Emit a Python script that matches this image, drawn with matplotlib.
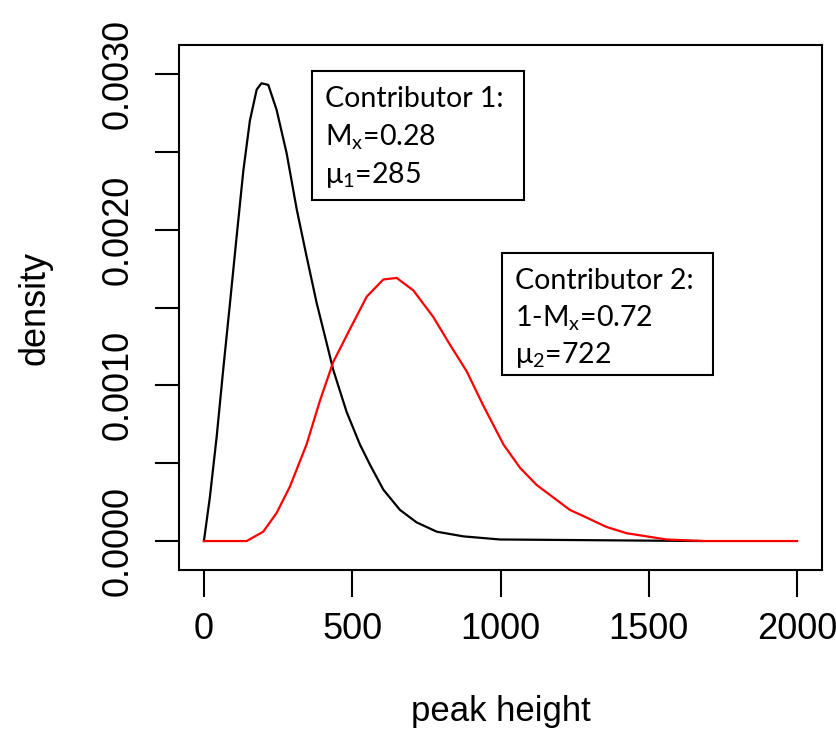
import matplotlib
matplotlib.use("Agg")
import matplotlib.pyplot as plt
from matplotlib.patches import Rectangle
from matplotlib import font_manager

# ---- data ----
black_x = [0, 20, 43, 65, 88, 110, 133, 155, 178, 194, 217, 245, 279, 313, 346,
           380, 414, 436, 481, 526, 560, 605, 661, 717, 785, 875, 998, 1680]
black_y = [0, 0.00028, 0.00067, 0.00110, 0.00153, 0.00195, 0.00238, 0.00270,
           0.00290, 0.00294, 0.00293, 0.00277, 0.00249, 0.00213, 0.00183, 0.00153,
           0.00127, 0.00110, 0.00083, 0.00062, 0.00049, 0.00033, 0.00020, 0.00012,
           0.00006, 0.00003, 0.00001, 0.0]

red_x = [0, 144, 200, 245, 290, 346, 391, 436, 492, 549, 605, 650, 706, 773, 830,
         886, 942, 1010, 1066, 1122, 1178, 1234, 1291, 1358, 1426, 1493, 1560, 1686, 2000]
red_y = [0, 0, 0.00006, 0.00018, 0.00035, 0.00062, 0.00090, 0.00115, 0.00136,
         0.00157, 0.00168, 0.00169, 0.00161, 0.00144, 0.00126, 0.00109, 0.00087,
         0.00062, 0.00047, 0.00036, 0.00028, 0.00020, 0.00015, 0.00009, 0.00005,
         0.00003, 0.00001, 0.0, 0.0]

x_ticks = [0, 500, 1000, 1500, 2000]
x_ticklabels = ["0", "500", "1000", "1500", "2000"]
y_ticks = [0, 0.0005, 0.0010, 0.0015, 0.0020, 0.0025, 0.0030]
y_ticklabels = ["0.0000", "", "0.0010", "", "0.0020", "", "0.0030"]

box1_lines = ["Contributor 1:", r"M$_{\mathregular{x}}$=0.28", r"μ$_{\mathregular{1}}$=285"]
box2_lines = ["Contributor 2:", r"1-M$_{\mathregular{x}}$=0.72", r"μ$_{\mathregular{2}}$=722"]

# ---- fonts ----
names = {f.name for f in font_manager.fontManager.ttflist}
narrow = "Liberation Sans Narrow" if "Liberation Sans Narrow" in names else "Liberation Sans"
plt.rcParams["mathtext.fontset"] = "custom"
plt.rcParams["mathtext.rm"] = "Lato"

W, H = 836, 734
fig = plt.figure(figsize=(W / 100, H / 100), dpi=100)
L, R, T, B = 179, 822, 45, 570
ax = fig.add_axes([L / W, 1 - B / H, (R - L) / W, (B - T) / H])

ax.plot(black_x, black_y, color="black", lw=1.6)
ax.plot(red_x, red_y, color="red", lw=1.6)

ax.set_xlim(-84, 2084)
ax.set_ylim(-0.000186, 0.003186)

ax.set_xticks(x_ticks)
ax.set_xticklabels(x_ticklabels, fontfamily="Liberation Sans", fontsize=26)
ax.set_yticks(y_ticks)
ax.set_yticklabels(y_ticklabels, fontfamily=narrow, fontsize=26,
                   rotation=90, va="center")
ax.tick_params(axis="x", length=19.5, width=1.5, pad=11, direction="out")
ax.tick_params(axis="y", length=17.5, width=1.5, pad=14, direction="out")
for s in ax.spines.values():
    s.set_linewidth(1.5)

ax.set_xlabel("peak height", fontfamily="Liberation Sans", fontsize=25, va="center")
ax.xaxis.set_label_coords(0.5, (B - 712) / (B - T))
ax.set_ylabel("density", fontfamily=narrow, fontsize=26, va="center")
ax.yaxis.set_label_coords((35 - L) / (R - L), 0.5)

def px2ax(px, py):
    return (px - L) / (R - L), (B - py) / (B - T)

def draw_box(x0, y0, x1, y1, tx, baselines, lines):
    ax0, ay0 = px2ax(x0, y1)
    ax1, ay1 = px2ax(x1, y0)
    ax.add_patch(Rectangle((ax0, ay0), ax1 - ax0, ay1 - ay0, transform=ax.transAxes,
                           fill=True, facecolor="white", edgecolor="black", lw=1.5,
                           zorder=3))
    for by, line in zip(baselines, lines):
        xx, yy = px2ax(tx, by)
        ax.text(xx, yy, line, transform=ax.transAxes, fontfamily="Lato",
                fontsize=20.5, va="baseline", ha="left", zorder=4)

draw_box(312, 71, 524, 200, 325, [107, 145, 183], box1_lines)
draw_box(502, 253, 713, 375, 515, [289, 326, 363], box2_lines)

fig.savefig("out.png", dpi=100)
